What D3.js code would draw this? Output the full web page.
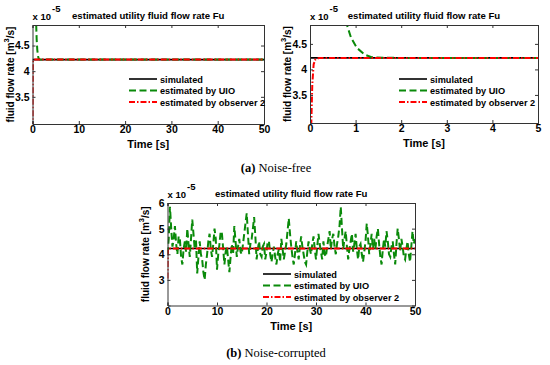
<!DOCTYPE html>
<html>
<head>
<meta charset="utf-8">
<script src="https://cdn.jsdelivr.net/npm/d3@7"></script>
<style>
  body { margin: 0; background: #fff; }
  svg text { font-family: "Liberation Sans", Arial, sans-serif; }
</style>
</head>
<body>
<div id="chart"></div>
<script>
/*** DATA (values in units of 1e-5 m^3/s) ***/
var legendLabels = ["simulated", "estimated by UIO", "estimated by observer 2"];
var titleText = "estimated utility fluid flow rate Fu";

// simulated flow rate (constant)
var simTime = [0, 50];
var simValue = [4.225, 4.225];

// noise-free UIO estimate
var uioTime = [0, 0.5, 0.8, 0.9, 1.03, 1.2, 1.35, 1.6, 2, 50];
var uioValue = [9.0, 5.6, 4.9, 4.62, 4.42, 4.29, 4.24, 4.228, 4.225, 4.225];

// noise-free observer 2 estimate
var obsTime = [0, 0.03, 0.05, 0.08, 0.12, 0.2, 50];
var obsValue = [2.0, 3.0, 3.7, 4.1, 4.2, 4.225, 4.225];

// noise-corrupted UIO estimate, sampled every 0.25 s from 0 to 50 s (one row per second)
var noisyUio = [
  4.0, 4.6, 5.85, 5.0,   4.3, 4.6, 5.1, 4.4,   4.0, 4.7, 4.6, 3.9,
  3.6, 4.2, 4.5, 4.1,    5.0, 4.4, 3.9, 4.6,   5.35, 4.8, 4.2, 4.6,
  3.25, 3.9, 4.5, 4.0,   3.8, 3.3, 3.0, 3.6,   4.0, 4.5, 4.8, 4.2,
  3.9, 4.4, 5.0, 4.6,    3.4, 4.0, 4.4, 4.9,   4.8, 4.2, 3.6, 4.1,
  4.3, 3.8, 3.3, 3.9,    4.4, 4.0, 5.1, 4.5,   3.9, 4.3, 4.6, 4.1,
  4.0, 4.4, 4.8, 5.2,    5.6, 4.8, 4.0, 4.4,   4.6, 5.0, 5.45, 4.7,
  3.8, 4.2, 4.5, 4.0,    3.9, 4.3, 4.4, 3.8,   4.1, 4.5, 4.5, 4.0,
  3.7, 4.0, 4.3, 3.9,    3.6, 4.0, 4.2, 3.7,   4.6, 4.2, 3.8, 4.1,
  4.4, 4.9, 5.4, 4.8,    4.3, 3.9, 3.6, 4.0,   4.5, 4.1, 3.8, 4.3,
  4.7, 4.3, 4.0, 3.7,    3.6, 4.1, 4.5, 4.2,   4.0, 4.4, 4.7, 4.2,
  3.8, 4.3, 4.8, 4.4,    4.1, 3.8, 4.5, 4.0,   3.9, 4.3, 4.6, 4.9,
  4.2, 4.6, 4.8, 4.3,    4.0, 4.4, 4.7, 5.1,   5.85, 5.0, 4.2, 4.6,
  4.9, 4.3, 3.8, 4.2,    4.5, 4.8, 4.1, 4.4,   4.8, 4.2, 3.8, 4.3,
  4.4, 4.0, 3.7, 4.1,    4.5, 5.2, 4.7, 4.0,   4.4, 4.8, 4.2, 4.6,
  4.2, 4.7, 5.0, 4.4,    3.9, 3.6, 4.2, 4.6,   4.3, 4.9, 4.5, 4.0,
  3.9, 4.3, 4.5, 4.0,    3.6, 4.4, 5.0, 4.6,   4.1, 4.6, 4.3, 3.9,
  3.8, 4.2, 4.5, 4.0,    3.7, 4.3, 4.9, 4.4,
  4.6
];
var noisyTime = d3.range(noisyUio.length).map(function(i) { return i * 0.25; });

// noise-corrupted observer 2 estimate
var noisyObsTime = [0, 0.05, 0.1, 0.2, 50];
var noisyObsValue = [3.05, 3.8, 4.15, 4.225, 4.225];

var xTicks1 = [0, 10, 20, 30, 40, 50];
var xTicks2 = [0, 1, 2, 3, 4, 5];
var yTicksTop = [3.5, 4, 4.5];
var yTicksBottom = [3, 4, 5, 6];

function zip(t, v) { return t.map(function(d, i) { return [d, v[i]]; }); }

var svg = d3.select("#chart").append("svg")
  .attr("width", 550)
  .attr("height", 365);

var styles = [
  {color: "#000", dash: null, width: 1.6},
  {color: "#0a8a0a", dash: "7,3.5", width: 2},
  {color: "#f00", dash: "6,2,1.5,2", width: 2}
];

var panelId = 0;
function drawPanel(p) {
  panelId++;
  var x = d3.scaleLinear().domain(p.xDomain).range([p.left, p.right]);
  var y = d3.scaleLinear().domain(p.yDomain).range([p.bottom, p.top]);
  var g = svg.append("g");

  g.append("clipPath").attr("id", "clip" + panelId)
    .append("rect")
    .attr("x", p.left).attr("y", p.top)
    .attr("width", p.right - p.left).attr("height", p.bottom - p.top);

  var line = d3.line()
    .x(function(d) { return x(d[0]); })
    .y(function(d) { return y(d[1]); });

  var plot = g.append("g").attr("clip-path", "url(#clip" + panelId + ")");
  p.series.forEach(function(s, i) {
    plot.append("path")
      .datum(s)
      .attr("d", line)
      .attr("fill", "none")
      .attr("stroke", styles[i].color)
      .attr("stroke-width", styles[i].width)
      .attr("stroke-dasharray", styles[i].dash);
  });

  // axes (MATLAB style: ticks inward, box)
  var tl = 3;
  g.append("g")
    .attr("transform", "translate(0," + p.bottom + ")")
    .call(d3.axisBottom(x).tickValues(p.xTicks).tickSize(-tl).tickPadding(2).tickFormat(d3.format("d")))
    .call(styleAxis);
  g.append("g")
    .attr("transform", "translate(0," + p.top + ")")
    .call(d3.axisTop(x).tickValues(p.xTicks).tickSize(-tl).tickFormat(""))
    .call(styleAxis);
  g.append("g")
    .attr("transform", "translate(" + p.left + ",0)")
    .call(d3.axisLeft(y).tickValues(p.yTicks).tickSize(-tl).tickPadding(3).tickFormat(d3.format("~g")))
    .call(styleAxis);
  g.append("g")
    .attr("transform", "translate(" + p.right + ",0)")
    .call(d3.axisRight(y).tickValues(p.yTicks).tickSize(-tl).tickFormat(""))
    .call(styleAxis);

  // title & exponent
  g.append("text")
    .attr("x", (p.left + p.right) / 2).attr("y", p.top - 6)
    .attr("text-anchor", "middle")
    .style("font-size", "9.6px").style("font-weight", "bold")
    .text(titleText);
  var ex = g.append("text")
    .attr("x", p.left).attr("y", p.top - 5)
    .style("font-size", "9.5px").style("font-weight", "bold");
  ex.append("tspan").text("x 10");
  ex.append("tspan").attr("dy", -8).attr("dx", 1).style("font-size", "9.5px").text("-5");

  // axis labels
  g.append("text")
    .attr("x", (p.left + p.right) / 2).attr("y", p.bottom + 24)
    .attr("text-anchor", "middle")
    .style("font-size", "11px").style("font-weight", "bold")
    .text("Time [s]");
  var yl = g.append("text")
    .attr("transform", "translate(" + (p.left - 19) + "," + ((p.top + p.bottom) / 2) + ") rotate(-90)")
    .attr("text-anchor", "middle")
    .style("font-size", "10px").style("font-weight", "bold");
  yl.append("tspan").text("fluid flow rate [m");
  yl.append("tspan").attr("dy", -5).style("font-size", "7.5px").text("3");
  yl.append("tspan").attr("dy", 5).text("/s]");

  // legend (no box)
  legendLabels.forEach(function(lab, i) {
    var ly = p.legendY + i * 11.5;
    g.append("line")
      .attr("x1", p.legendX).attr("x2", p.legendX + 28)
      .attr("y1", ly).attr("y2", ly)
      .attr("stroke", styles[i].color)
      .attr("stroke-width", styles[i].width)
      .attr("stroke-dasharray", styles[i].dash);
    g.append("text")
      .attr("x", p.legendX + 31).attr("y", ly + 3.5)
      .style("font-size", "9.2px").style("font-weight", "bold")
      .text(lab);
  });
}

function styleAxis(sel) {
  sel.select(".domain").attr("stroke", "#333");
  sel.selectAll(".tick line").attr("stroke", "#333");
  sel.selectAll(".tick text")
    .attr("fill", "#000")
    .style("font-size", "10.5px")
    .style("font-weight", "bold")
    .style("font-family", "'Liberation Sans', Arial, sans-serif");
}

drawPanel({
  left: 32.5, right: 264, top: 25, bottom: 124,
  xDomain: [0, 50], yDomain: [2.97, 4.9],
  xTicks: xTicks1, yTicks: yTicksTop,
  series: [zip(simTime, simValue), zip(uioTime, uioValue), zip(obsTime, obsValue)],
  legendX: 129, legendY: 79
});

drawPanel({
  left: 310, right: 538, top: 25, bottom: 123,
  xDomain: [0, 5], yDomain: [2.95, 4.87],
  xTicks: xTicks2, yTicks: yTicksTop,
  series: [zip(simTime, simValue), zip(uioTime, uioValue), zip(obsTime, obsValue)],
  legendX: 399, legendY: 79
});

drawPanel({
  left: 167.5, right: 415, top: 203, bottom: 305.5,
  xDomain: [0, 50], yDomain: [2, 6],
  xTicks: xTicks1, yTicks: yTicksBottom,
  series: [zip(simTime, simValue), zip(noisyTime, noisyUio), zip(noisyObsTime, noisyObsValue)],
  legendX: 263, legendY: 274
});

// captions
function caption(label, text, yPos) {
  var c = svg.append("text")
    .attr("x", 276).attr("y", yPos)
    .attr("text-anchor", "middle")
    .style("font-family", "'Liberation Serif', 'DejaVu Serif', serif")
    .style("font-size", "12.5px");
  c.append("tspan").style("font-weight", "bold").text(label);
  c.append("tspan").text(" " + text);
}
caption("(a)", "Noise-free", 172);
caption("(b)", "Noise-corrupted", 357);
</script>
</body>
</html>
